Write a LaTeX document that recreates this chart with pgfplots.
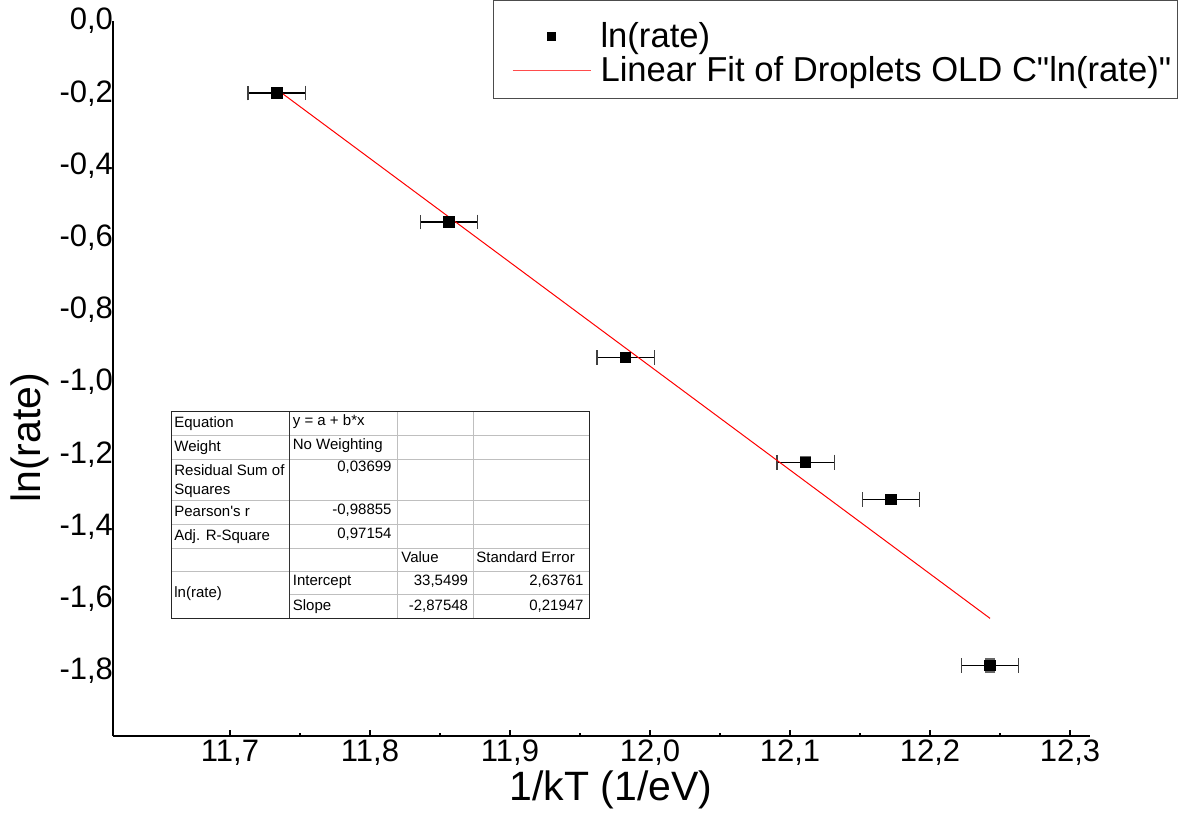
\documentclass[border=0pt]{standalone}
\usepackage{fontspec}
\setmainfont{Liberation Sans}[Ligatures=TeXOff]
\usepackage{pgfplots}
\usepackage{pgfplotstable}
\pgfplotsset{compat=1.18}
\pgfplotstableread{
x y ex ey
11.7334 -0.1994 0.0205 0.008
11.8564 -0.5568 0.0205 0.006
11.9826 -0.9318 0.0205 0.006
12.1112 -1.2216 0.0205 0.014
12.1721 -1.3241 0.0205 0.008
12.2429 -1.7850 0.0205 0.018
}\datatable
\begin{document}
\begin{tikzpicture}
\useasboundingbox (-56.5pt,-45pt) rectangle (533.5pt,368pt);
\begin{axis}[
  at={(0,0)}, anchor=south west,
  scale only axis, width=488.5pt, height=357.5pt,
  xmin=11.61643, xmax=12.31429, ymin=-1.98, ymax=0,
  axis lines*=left,
  axis line style={line width=1pt, black},
  xtick={11.7,11.8,11.9,12.0,12.1,12.2,12.3},
  ytick={0,-0.2,-0.4,-0.6,-0.8,-1.0,-1.2,-1.4,-1.6,-1.8},
  minor x tick num=1,
  tick align=inside,
  major tick length=3pt, minor tick length=1.5pt,
  xtick style={black, line width=0.6pt},
  ytick style={draw=none},
  /pgf/number format/assume math mode=true,
  /pgf/number format/use comma,
  /pgf/number format/fixed,
  /pgf/number format/fixed zerofill,
  /pgf/number format/precision=1,
  ticklabel style={font=\fontsize{15.5}{18}\selectfont},
  xticklabel style={yshift=1.5pt},
  yticklabel style={xshift=3.5pt},
  every axis x label/.style={at={(axis description cs:0.5097,-0.0755)}, anchor=center},
  every axis y label/.style={at={(axis description cs:-0.0850,0.417)}, rotate=90, anchor=center},
  label style={font=\fontsize{20.5}{24}\selectfont},
  xlabel={1/kT (1/eV)},
  ylabel={ln(rate)},
  legend style={at={(0.3889,1.0294)}, anchor=north west, draw=black!70, line width=0.6pt,
    font=\fontsize{17.3}{21}\selectfont, inner xsep=2pt, inner ysep=7.5pt,
    row sep=0pt, column sep=0pt,
    nodes={inner xsep=1pt, inner ysep=0pt, text height=16pt, text depth=1pt}},
  legend cell align=left,
]
\addplot[forget plot, only marks, mark=square*, mark size=2.6pt, black,
  error bars/.cd, y dir=both, y explicit,
  error bar style={line width=0.6pt, black!60},
  error mark options={rotate=90, mark size=2.6pt, line width=0.6pt, black!60}]
  table[x=x, y=y, y error=ey] {\datatable};
\addplot[only marks, mark=square*, mark size=2.6pt, black,
  legend image code/.code={
    \path[draw=none, fill=none] (0pt,0pt) -- (50.5pt,0pt);
    \fill[black] (24.9pt,-4.1pt) rectangle (29.1pt,0.1pt);
  },
  error bars/.cd, x dir=both, x explicit,
  error bar style={line width=0.6pt, black},
  error mark options={rotate=90, mark size=3.7pt, line width=0.6pt, black!75}]
  table[x=x, y=y, x error=ex] {\datatable};
\addlegendentry{ln(rate)}
\addplot[red, line width=0.5pt,
  legend image code/.code={
    \path[draw=none, fill=none] (0pt,0pt) -- (50.5pt,0pt);
    \draw[red!70, line width=0.6pt] (7.5pt,-2pt) -- (46.5pt,-2pt);
  }] coordinates {(11.7334,-0.18926) (12.2429,-1.65431)};
\addlegendentry{Linear Fit of Droplets OLD C"ln(rate)"}
\end{axis}
\begin{scope}[x=0.5pt, y=-0.5pt, shift={(-56.5pt,368pt)}]
  \fill[white] (171.7,411.7) rectangle (589.3,618.3);
  \draw[black!25, line width=0.5pt]
    (171.7,435.7) -- (589.3,435.7)
    (171.7,459.3) -- (589.3,459.3)
    (171.7,501) -- (589.3,501)
    (171.7,525) -- (589.3,525)
    (171.7,548.3) -- (589.3,548.3)
    (171.7,571.7) -- (589.3,571.7)
    (289.3,595) -- (589.3,595)
    (397.3,411.7) -- (397.3,618.3)
    (473.3,411.7) -- (473.3,618.3);
  \draw[black!80, line width=0.5pt] (289.3,411.7) -- (289.3,618.3);
  \draw[black!85, line width=0.6pt] (171.7,411.7) rectangle (589.3,618.3);
  \begin{scope}[every node/.style={font=\fontsize{7.5}{9}\selectfont, inner sep=0pt}]
    \node[anchor=base west] at (174,428) {Equation};
    \node[anchor=base west] at (174,452) {Weight};
    \node[anchor=base west] at (174,476) {Residual Sum of};
    \node[anchor=base west] at (174,494) {Squares};
    \node[anchor=base west] at (174,517) {Pearson's r};
    \node[anchor=base west] at (174,541) {Adj. R-Square};
    \node[anchor=base west] at (174,598) {ln(rate)};
    \node[anchor=base west] at (292.5,426) {y = a + b*x};
    \node[anchor=base west] at (292.5,450) {No Weighting};
    \node[anchor=base east] at (392,472) {0,03699};
    \node[anchor=base east] at (392,515) {-0,98855};
    \node[anchor=base east] at (392,539) {0,97154};
    \node[anchor=base west] at (401,563) {Value};
    \node[anchor=base west] at (476,563) {Standard Error};
    \node[anchor=base west] at (292.5,586) {Intercept};
    \node[anchor=base west] at (292.5,610) {Slope};
    \node[anchor=base east] at (468.5,586) {33,5499};
    \node[anchor=base east] at (468.5,610) {-2,87548};
    \node[anchor=base east] at (584,586) {2,63761};
    \node[anchor=base east] at (584,610) {0,21947};
  \end{scope}
\end{scope}
\end{tikzpicture}
\end{document}
